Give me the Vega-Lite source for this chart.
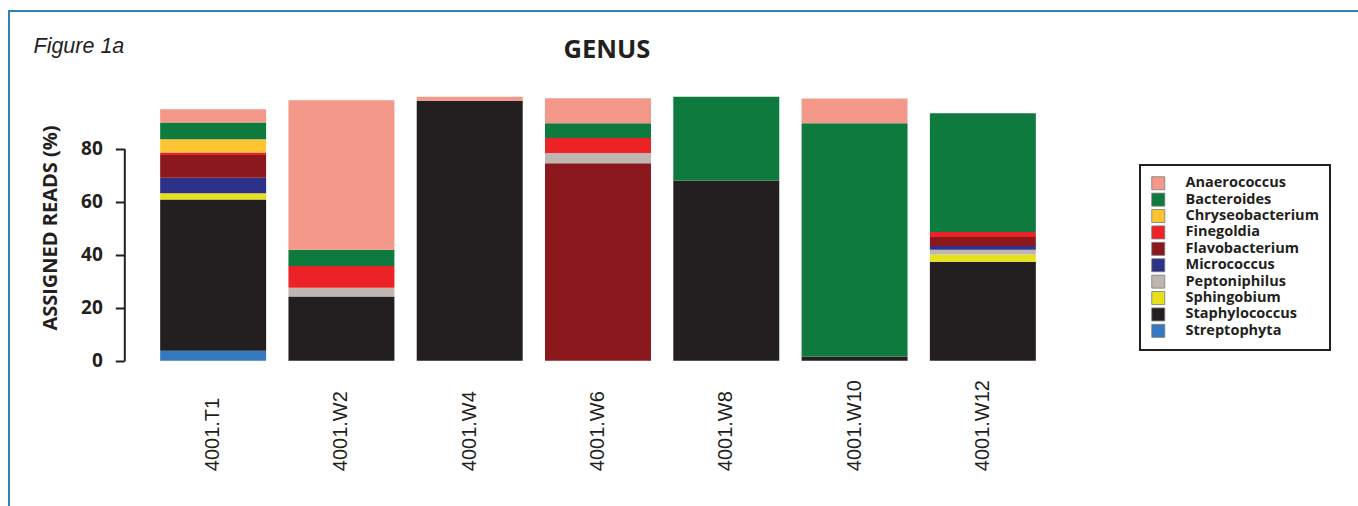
{
  "$schema": "https://vega.github.io/schema/vega-lite/v6.json",
  "autosize": "none",
  "padding": {"left": 9, "top": 11, "right": 0, "bottom": 0},
  "width": 1352,
  "height": 497,
  "background": "white",
  "config": {
    "view": {"stroke": "#2686b5", "strokeWidth": 2},
    "legend": {"strokeWidth": 2}
  },
  "title": {
    "text": "GENUS",
    "anchor": "middle",
    "frame": "group",
    "dx": -78,
    "offset": -72,
    "baseline": "alphabetic",
    "font": "Open Sans",
    "fontSize": 25.5,
    "fontWeight": "bold",
    "color": "#231f20"
  },
  "data": {
    "values": [
      {"sample": "4001.T1", "genus": "Streptophyta", "pct": 3.8, "rank": 1},
      {"sample": "4001.T1", "genus": "Staphylococcus", "pct": 57.0, "rank": 2},
      {"sample": "4001.T1", "genus": "Sphingobium", "pct": 2.4, "rank": 3},
      {"sample": "4001.T1", "genus": "Micrococcus", "pct": 5.8, "rank": 4},
      {"sample": "4001.T1", "genus": "Flavobacterium", "pct": 8.6, "rank": 5},
      {"sample": "4001.T1", "genus": "Finegoldia", "pct": 1.0, "rank": 6},
      {"sample": "4001.T1", "genus": "Chryseobacterium", "pct": 5.0, "rank": 7},
      {"sample": "4001.T1", "genus": "Bacteroides", "pct": 6.3, "rank": 8},
      {"sample": "4001.T1", "genus": "Anaerococcus", "pct": 5.0, "rank": 9},
      {"sample": "4001.W2", "genus": "Staphylococcus", "pct": 24.2, "rank": 1},
      {"sample": "4001.W2", "genus": "Peptoniphilus", "pct": 3.3, "rank": 2},
      {"sample": "4001.W2", "genus": "Finegoldia", "pct": 8.2, "rank": 3},
      {"sample": "4001.W2", "genus": "Bacteroides", "pct": 6.2, "rank": 4},
      {"sample": "4001.W2", "genus": "Anaerococcus", "pct": 56.4, "rank": 5},
      {"sample": "4001.W4", "genus": "Staphylococcus", "pct": 98.1, "rank": 1},
      {"sample": "4001.W4", "genus": "Anaerococcus", "pct": 1.5, "rank": 2},
      {"sample": "4001.W6", "genus": "Flavobacterium", "pct": 74.5, "rank": 1},
      {"sample": "4001.W6", "genus": "Peptoniphilus", "pct": 3.9, "rank": 2},
      {"sample": "4001.W6", "genus": "Finegoldia", "pct": 5.6, "rank": 3},
      {"sample": "4001.W6", "genus": "Bacteroides", "pct": 5.6, "rank": 4},
      {"sample": "4001.W6", "genus": "Anaerococcus", "pct": 9.4, "rank": 5},
      {"sample": "4001.W8", "genus": "Staphylococcus", "pct": 68.0, "rank": 1},
      {"sample": "4001.W8", "genus": "Bacteroides", "pct": 31.6, "rank": 2},
      {"sample": "4001.W10", "genus": "Staphylococcus", "pct": 1.6, "rank": 1},
      {"sample": "4001.W10", "genus": "Bacteroides", "pct": 88.0, "rank": 2},
      {"sample": "4001.W10", "genus": "Anaerococcus", "pct": 9.3, "rank": 3},
      {"sample": "4001.W12", "genus": "Staphylococcus", "pct": 37.3, "rank": 1},
      {"sample": "4001.W12", "genus": "Sphingobium", "pct": 2.8, "rank": 2},
      {"sample": "4001.W12", "genus": "Peptoniphilus", "pct": 1.8, "rank": 3},
      {"sample": "4001.W12", "genus": "Micrococcus", "pct": 1.4, "rank": 4},
      {"sample": "4001.W12", "genus": "Flavobacterium", "pct": 3.4, "rank": 5},
      {"sample": "4001.W12", "genus": "Finegoldia", "pct": 1.9, "rank": 6},
      {"sample": "4001.W12", "genus": "Bacteroides", "pct": 44.8, "rank": 7}
    ]
  },
  "mark": {"type": "bar"},
  "encoding": {
    "x": {
      "field": "sample",
      "type": "nominal",
      "sort": ["4001.T1", "4001.W2", "4001.W4", "4001.W6", "4001.W8", "4001.W10", "4001.W12"],
      "scale": {"range": [140, 1038], "paddingInner": 0.174, "paddingOuter": 0.087},
      "axis": {
        "orient": "bottom",
        "offset": -147.3,
        "domain": false,
        "ticks": false,
        "tickSize": 0,
        "labelAngle": -90,
        "labelAlign": "left",
        "labelBaseline": "middle",
        "labelPadding": 110,
        "labelFont": "Liberation Sans",
        "labelFontSize": 20,
        "labelColor": "#231f20",
        "labelLimit": 0,
        "title": "Figure 1a",
        "titleX": 24,
        "titleY": -308.7,
        "titleAngle": 0,
        "titleAlign": "left",
        "titleBaseline": "alphabetic",
        "titleFont": "Liberation Sans",
        "titleFontStyle": "italic",
        "titleFontWeight": "normal",
        "titleFontSize": 21.5,
        "titleColor": "#231f20"
      }
    },
    "y": {
      "field": "pct",
      "type": "quantitative",
      "stack": "zero",
      "scale": {"domain": [0, 80], "range": [349.7, 137.7], "nice": false},
      "axis": {
        "orient": "left",
        "offset": -115.3,
        "values": [0, 20, 40, 60, 80],
        "grid": false,
        "domainColor": "#231f20",
        "domainWidth": 2,
        "tickColor": "#231f20",
        "tickWidth": 2,
        "tickSize": 9,
        "labelPadding": 13,
        "labelFont": "Open Sans",
        "labelFontWeight": "bold",
        "labelFontSize": 19,
        "labelColor": "#231f20",
        "title": "ASSIGNED READS (%)",
        "titleFont": "Open Sans",
        "titleFontWeight": "bold",
        "titleFontSize": 20,
        "titleColor": "#231f20",
        "titleY": 216.5,
        "titlePadding": 20
      }
    },
    "color": {
      "field": "genus",
      "type": "nominal",
      "scale": {
        "domain": ["Anaerococcus", "Bacteroides", "Chryseobacterium", "Finegoldia", "Flavobacterium", "Micrococcus", "Peptoniphilus", "Sphingobium", "Staphylococcus", "Streptophyta"],
        "range": ["#F4998A", "#0E7A3E", "#FDC533", "#EC2227", "#8A181C", "#2E3188", "#BFB6B2", "#E6E11C", "#231F20", "#3479C1"]
      },
      "legend": {
        "orient": "none",
        "legendX": 1131,
        "legendY": 154,
        "title": null,
        "strokeColor": "#231f20",
        "padding": 11,
        "symbolType": "square",
        "symbolSize": 169,
        "symbolStrokeColor": "#777777",
        "symbolStrokeWidth": 0.8,
        "symbolOpacity": 1,
        "labelFont": "Open Sans",
        "labelFontWeight": "bold",
        "labelFontSize": 14.5,
        "labelColor": "#231f20",
        "labelOffset": 20,
        "rowPadding": -0.6,
        "labelLimit": 0
      }
    },
    "order": {"field": "rank", "sort": "ascending"}
  }
}
